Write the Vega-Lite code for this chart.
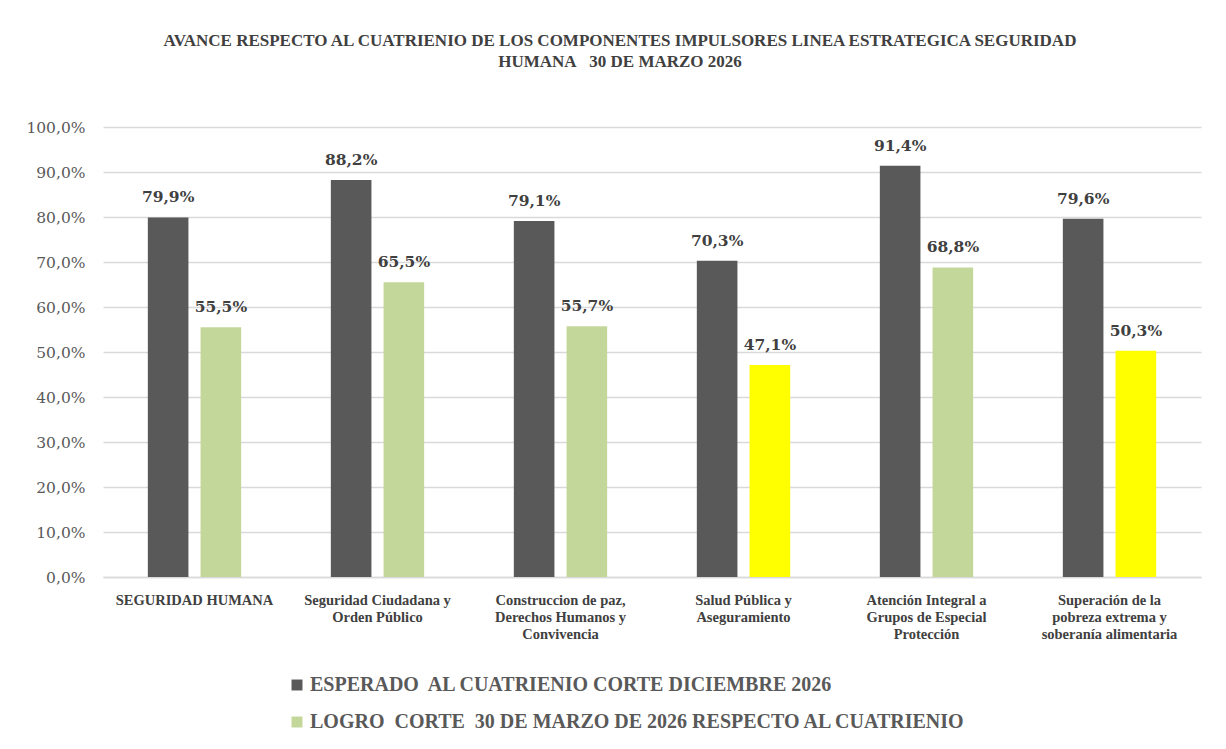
{
  "$schema": "https://vega.github.io/schema/vega-lite/v6.json",
  "width": 1098,
  "height": 450,
  "autosize": {"type": "none"},
  "padding": {"left": 103, "top": 127, "right": 25, "bottom": 172},
  "background": "white",
  "title": {
    "text": ["AVANCE RESPECTO AL CUATRIENIO DE LOS COMPONENTES IMPULSORES LINEA ESTRATEGICA SEGURIDAD", "HUMANA\u00a0\u00a0 30 DE MARZO 2026"],
    "font": "Liberation Serif",
    "fontSize": 17,
    "fontWeight": "bold",
    "color": "#404040",
    "anchor": "middle",
    "frame": "group",
    "dx": -32,
    "offset": 49,
    "lineHeight": 21
  },
  "data": {
    "values": [
      {"categoria": "SEGURIDAD HUMANA", "serie": "ESPERADO  AL CUATRIENIO CORTE DICIEMBRE 2026", "valor": 0.799},
      {"categoria": "SEGURIDAD HUMANA", "serie": "LOGRO  CORTE  30 DE MARZO DE 2026 RESPECTO AL CUATRIENIO", "valor": 0.555},
      {"categoria": "Seguridad Ciudadana y Orden Público", "serie": "ESPERADO  AL CUATRIENIO CORTE DICIEMBRE 2026", "valor": 0.882},
      {"categoria": "Seguridad Ciudadana y Orden Público", "serie": "LOGRO  CORTE  30 DE MARZO DE 2026 RESPECTO AL CUATRIENIO", "valor": 0.655},
      {"categoria": "Construccion de paz, Derechos Humanos y Convivencia", "serie": "ESPERADO  AL CUATRIENIO CORTE DICIEMBRE 2026", "valor": 0.791},
      {"categoria": "Construccion de paz, Derechos Humanos y Convivencia", "serie": "LOGRO  CORTE  30 DE MARZO DE 2026 RESPECTO AL CUATRIENIO", "valor": 0.557},
      {"categoria": "Salud Pública y Aseguramiento", "serie": "ESPERADO  AL CUATRIENIO CORTE DICIEMBRE 2026", "valor": 0.703},
      {"categoria": "Salud Pública y Aseguramiento", "serie": "LOGRO  CORTE  30 DE MARZO DE 2026 RESPECTO AL CUATRIENIO", "valor": 0.471},
      {"categoria": "Atención Integral a Grupos de Especial Protección", "serie": "ESPERADO  AL CUATRIENIO CORTE DICIEMBRE 2026", "valor": 0.914},
      {"categoria": "Atención Integral a Grupos de Especial Protección", "serie": "LOGRO  CORTE  30 DE MARZO DE 2026 RESPECTO AL CUATRIENIO", "valor": 0.688},
      {"categoria": "Superación de la pobreza extrema y soberanía alimentaria", "serie": "ESPERADO  AL CUATRIENIO CORTE DICIEMBRE 2026", "valor": 0.796},
      {"categoria": "Superación de la pobreza extrema y soberanía alimentaria", "serie": "LOGRO  CORTE  30 DE MARZO DE 2026 RESPECTO AL CUATRIENIO", "valor": 0.503}
    ]
  },
  "encoding": {
    "x": {
      "field": "categoria",
      "type": "nominal",
      "sort": null,
      "scale": {"paddingInner": 0.49, "paddingOuter": 0.245},
      "axis": {
        "title": null,
        "labelAngle": 0,
        "ticks": false,
        "domainColor": "#d9d9d9",
        "domainWidth": 1.5,
        "labelFont": "Liberation Serif",
        "labelFontSize": 14.5,
        "labelFontWeight": "bold",
        "labelColor": "#404040",
        "labelPadding": 16,
        "labelLineHeight": 17,
        "labelLimit": 250,
        "labelExpr": "datum.label == 'Seguridad Ciudadana y Orden Público' ? ['Seguridad Ciudadana y', 'Orden Público'] : datum.label == 'Construccion de paz, Derechos Humanos y Convivencia' ? ['Construccion de paz,', 'Derechos Humanos y', 'Convivencia'] : datum.label == 'Salud Pública y Aseguramiento' ? ['Salud Pública y', 'Aseguramiento'] : datum.label == 'Atención Integral a Grupos de Especial Protección' ? ['Atención Integral a', 'Grupos de Especial', 'Protección'] : datum.label == 'Superación de la pobreza extrema y soberanía alimentaria' ? ['Superación de la', 'pobreza extrema y', 'soberanía alimentaria'] : datum.label"
      }
    },
    "xOffset": {
      "field": "serie",
      "type": "nominal",
      "sort": ["ESPERADO  AL CUATRIENIO CORTE DICIEMBRE 2026", "LOGRO  CORTE  30 DE MARZO DE 2026 RESPECTO AL CUATRIENIO"],
      "scale": {"paddingInner": 0.23, "paddingOuter": 0}
    },
    "y": {
      "field": "valor",
      "type": "quantitative",
      "scale": {"domain": [0, 1]},
      "axis": {
        "title": null,
        "format": ".1%",
        "values": [0, 0.1, 0.2, 0.3, 0.4, 0.5, 0.6, 0.7, 0.8, 0.9, 1.0],
        "labelOverlap": false,
        "domain": false,
        "ticks": false,
        "gridColor": "#d9d9d9",
        "gridWidth": 1.3,
        "labelFont": "DejaVu Serif",
        "labelFontSize": 15.5,
        "labelColor": "#595959",
        "labelPadding": 18
      }
    }
  },
  "layer": [
    {
      "mark": {"type": "bar"},
      "encoding": {
        "color": {
          "condition": {
            "test": "datum.serie == 'LOGRO  CORTE  30 DE MARZO DE 2026 RESPECTO AL CUATRIENIO' && datum.valor < 0.52",
            "value": "#FFFF00"
          },
          "field": "serie",
          "type": "nominal",
          "sort": ["ESPERADO  AL CUATRIENIO CORTE DICIEMBRE 2026", "LOGRO  CORTE  30 DE MARZO DE 2026 RESPECTO AL CUATRIENIO"],
          "scale": {"range": ["#595959", "#C4D79B"]},
          "legend": {
            "title": null,
            "orient": "none",
            "legendX": 184,
            "legendY": 548,
            "direction": "vertical",
            "symbolType": "square",
            "symbolSize": 120,
            "symbolStrokeWidth": 0,
            "labelFont": "Liberation Serif",
            "labelFontSize": 20,
            "labelFontWeight": "bold",
            "labelColor": "#595959",
            "labelLimit": 900,
            "rowPadding": 17,
            "labelOffset": 3,
            "labelExpr": "replace(datum.label, regexp('  ', 'g'), '\u00a0 ')"
          }
        }
      }
    },
    {
      "mark": {
        "type": "text",
        "baseline": "bottom",
        "dy": -12,
        "font": "DejaVu Serif",
        "fontSize": 15.5,
        "fontWeight": "bold",
        "color": "#404040"
      },
      "encoding": {
        "text": {"field": "valor", "type": "quantitative", "format": ".1%"}
      }
    }
  ],
  "config": {
    "view": {"stroke": null},
    "locale": {
      "number": {"decimal": ",", "thousands": ".", "grouping": [3], "currency": ["$", ""]}
    }
  }
}
